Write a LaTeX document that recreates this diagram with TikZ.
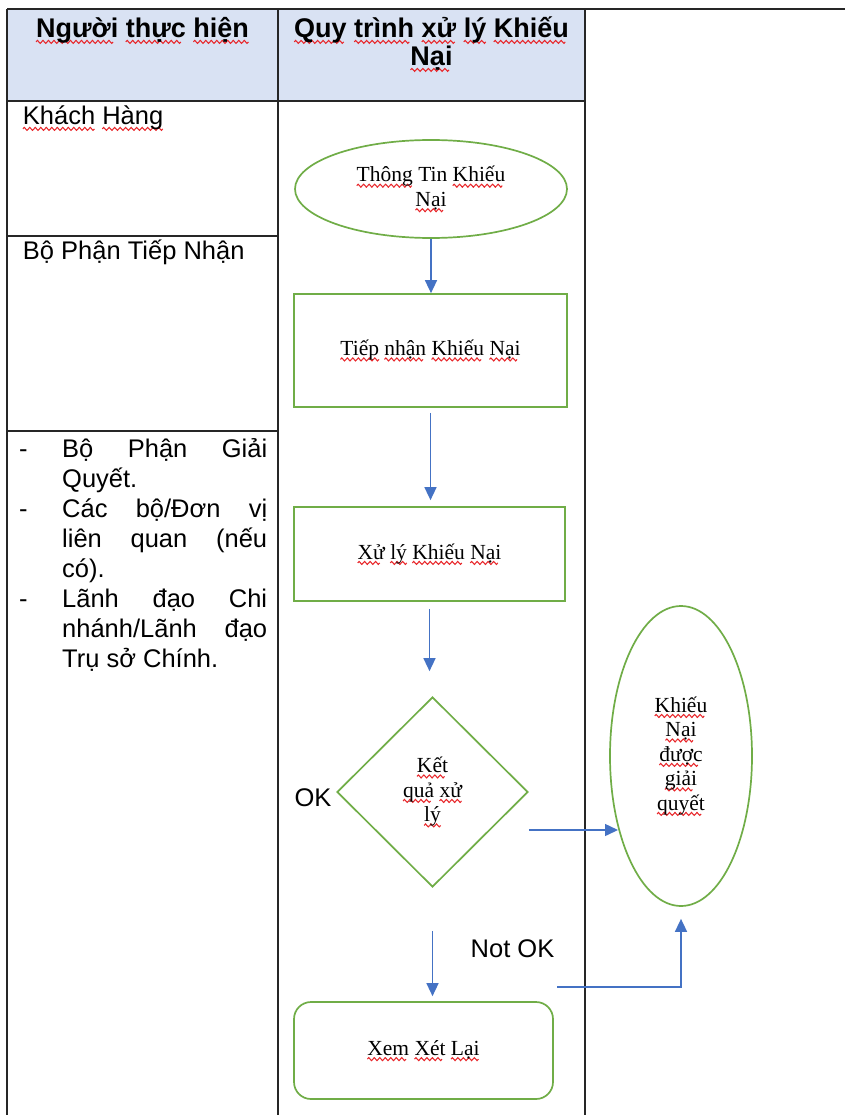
\documentclass[tikz,border=0pt]{standalone}
\usepackage{fontspec}
\setmainfont{Liberation Sans}
\newfontfamily\serifbody{Liberation Serif}
\usetikzlibrary{shapes.geometric,arrows.meta}
\definecolor{gshp}{HTML}{70AD47}
\definecolor{arrblue}{HTML}{4472C4}
\definecolor{hdrfill}{HTML}{D9E2F3}
\definecolor{wavered}{HTML}{E8262A}
\newsavebox\wavebox
\newsavebox\sqtmp
\newcommand\sqw[1]{\sbox\sqtmp{#1}\rlap{\raisebox{-5.5pt}{\hbox to \wd\sqtmp{\leaders\copy\wavebox\hfill}}}#1}
\tikzset{
  tline/.style={line width=1.6pt, draw=black!85},
  gshape/.style={draw=gshp, line width=1.7pt, fill=white, align=center, inner sep=0pt,
    font=\serifbody\fontsize{21.5}{24.5}\selectfont},
  arr/.style={draw=arrblue, line width=1.5pt, -{Triangle[length=13pt,width=12pt]}},
  lbl/.style={font=\fontsize{25.5}{30}\selectfont, inner sep=0pt},
  hdr/.style={font=\bfseries\fontsize{27}{28}\selectfont, inner sep=0pt, align=center},
}
\begin{document}
\sbox\wavebox{\begin{pgfpicture}
  \pgfpathrectangle{\pgfpoint{0pt}{-1.6pt}}{\pgfpoint{5.5pt}{3.2pt}}
  \pgfusepath{use as bounding box}
  \pgfsetstrokecolor{wavered}\pgfsetlinewidth{1.05pt}
  \pgfpathmoveto{\pgfpoint{0pt}{0pt}}
  \pgfpathsine{\pgfpoint{1.375pt}{1.5pt}}
  \pgfpathcosine{\pgfpoint{1.375pt}{-1.5pt}}
  \pgfpathsine{\pgfpoint{1.375pt}{-1.5pt}}
  \pgfpathcosine{\pgfpoint{1.375pt}{1.5pt}}
  \pgfusepath{stroke}
\end{pgfpicture}}
\begin{tikzpicture}[x=1pt,y=-1pt]
\useasboundingbox (0,0) rectangle (845,1115);
% table
\fill[hdrfill] (7,9) rectangle (585,101);
\draw[tline] (7,9) -- (845,9);
\draw[tline] (7,9) -- (7,1115);
\draw[tline] (278,9) -- (278,1115);
\draw[tline] (585,9) -- (585,1115);
\draw[tline] (7,101) -- (585,101);
\draw[tline] (7,236) -- (278,236);
\draw[tline] (7,431) -- (278,431);
% header
\node[hdr, anchor=base] (h1) at (142.5,38) {\sqw{Người} \sqw{thực} \sqw{hiện}};
\node[hdr, anchor=base] (h2) at (431.5,66) {\sqw{Quy} \sqw{trình} \sqw{xử} \sqw{lý} \sqw{Khiếu}\\\sqw{Nại}};
% left column
\node[lbl, anchor=base west] (kh) at (22.7,125) {\sqw{Khách} \sqw{Hàng}};
\node[lbl, anchor=base west] (bp) at (22.7,259) {Bộ Phận Tiếp Nhận};
\node[lbl, anchor=base west] (d1) at (19,457) {-};
\node[lbl, anchor=base west] (d2) at (19,517) {-};
\node[lbl, anchor=base west] (d3) at (19,607) {-};
\node[lbl, anchor=base west, align=left] (list) at (62,667)
  {\makebox[205pt][s]{Bộ Phận Giải}\\
   Quyết.\\
   \makebox[205pt][s]{Các bộ/Đơn vị}\\
   \makebox[205pt][s]{liên quan (nếu}\\
   có).\\
   \makebox[205pt][s]{Lãnh đạo Chi}\\
   \makebox[205pt][s]{nhánh/Lãnh đạo}\\
   Trụ sở Chính.};
% flow shapes
\node[gshape, ellipse, minimum width=272pt, minimum height=98pt] (e1) at (431,189)
  {\sqw{Thông} Tin \sqw{Khiếu}\\\sqw{Nại}};
\node[gshape, rectangle, minimum width=273pt, minimum height=113pt] (r1) at (430.5,350.5)
  {\sqw{Tiếp} \sqw{nhận} \sqw{Khiếu} \sqw{Nại}};
\node[gshape, rectangle, minimum width=271pt, minimum height=94pt] (r2) at (429.5,554)
  {\sqw{Xử} \sqw{lý} \sqw{Khiếu} \sqw{Nại}};
\node[gshape, diamond, minimum width=191pt, minimum height=190pt] (d) at (432.5,792)
  {\sqw{Kết}\\\sqw{quả} \sqw{xử}\\\sqw{lý}};
\node[gshape, ellipse, minimum width=142pt, minimum height=300pt] (e2) at (681,756)
  {\sqw{Khiếu}\\\sqw{Nại}\\\sqw{được}\\\sqw{giải}\\\sqw{quyết}};
\node[gshape, rectangle, rounded corners=17pt, minimum width=259pt, minimum height=97pt] (r3) at (423.5,1050.5)
  {\sqw{Xem} \sqw{Xét} \sqw{Lại}};
% labels
\node[lbl] (ok) at (313,798) {OK};
\node[lbl, anchor=base] (nok) at (512.5,957) {Not OK};
% connectors
\draw[arr] (e1.south) -- (e1.south |- r1.north);
\draw[arr, shorten <=5pt, shorten >=6pt] (r1.south) -- (r1.south |- r2.north);
\draw[arr, shorten <=7pt, shorten >=25pt] (r2.south) -- (r2.south |- d.north);
\draw[arr, shorten <=43pt, shorten >=5pt] (d.south) -- (d.south |- r3.north);
\coordinate (okY) at (0,830);
\draw[arr] (d.east |- okY) -- (e2.229.5 |- okY);
\coordinate (nokA) at (557,987);
\draw[arr, shorten >=12pt] (nokA) -| (e2.south);
\end{tikzpicture}
\end{document}
